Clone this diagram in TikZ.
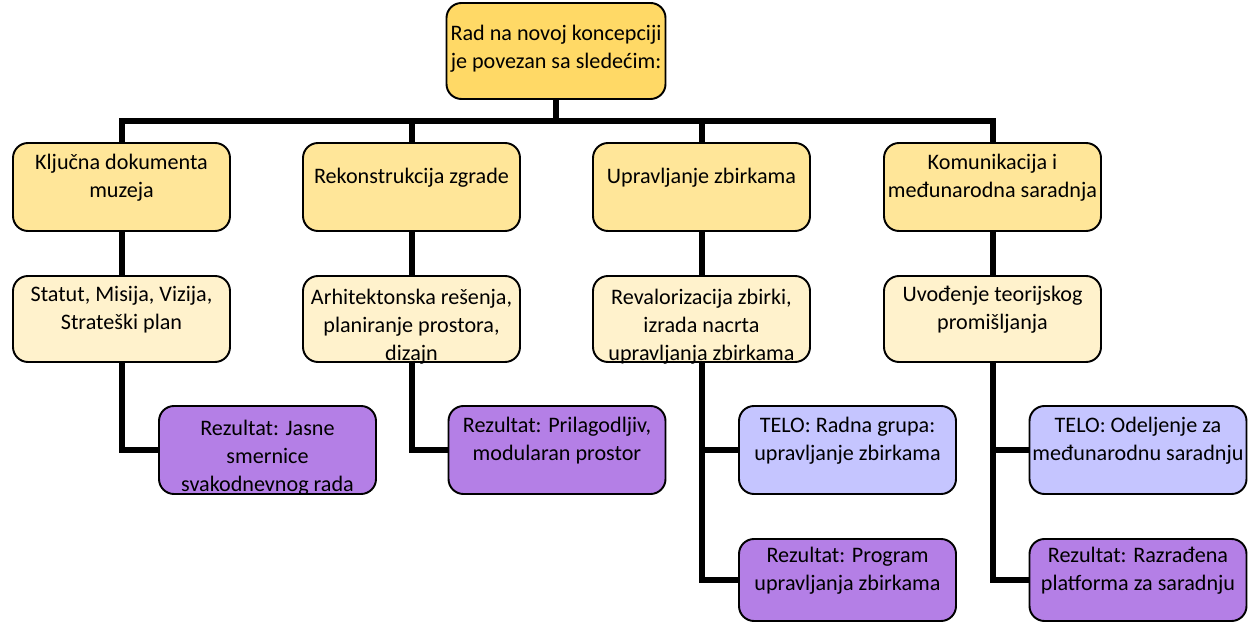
\documentclass[tikz,border=0pt]{standalone}
\usepackage{fontspec}
\setmainfont{Carlito}
\usetikzlibrary{positioning, calc}

\definecolor{zlatna}{RGB}{255,217,102}
\definecolor{svetlozlatna}{RGB}{255,230,153}
\definecolor{krem}{RGB}{255,242,204}
\definecolor{ljubicasta}{RGB}{180,127,230}
\definecolor{lavanda}{RGB}{197,197,255}

\begin{document}
\begin{tikzpicture}[
    box/.style={rectangle, rounded corners=0.3cm, draw=black, line width=1.1pt, align=center,
        minimum width=4.34cm, minimum height=1.76cm, inner xsep=0pt, inner ysep=2pt, text depth=0.45cm,
        font=\fontsize{12.6}{16}\selectfont},
    overflow/.style={text height=1.66cm, text depth=0cm, inner ysep=0pt},
    main/.style={box, fill=zlatna, minimum width=4.38cm, minimum height=1.92cm, text depth=0.16cm},
    area/.style={box, fill=svetlozlatna},
    task/.style={box, fill=krem, minimum height=1.72cm},
    result/.style={box, fill=ljubicasta},
    body/.style={box, fill=lavanda},
    link/.style={line width=0.12cm}
]
\useasboundingbox (0,0) rectangle (24.96,-12.48);

% glavni cvor
\node[main] (root) at (11.12,-1.02) {Rad na novoj koncepciji\\je povezan sa sledećim:};

% oblasti rada
\node[area] (docs)        at (2.43,-3.74)  {Ključna dokumenta\\muzeja};
\node[area] (building)    at (8.23,-3.74)  {Rekonstrukcija zgrade};
\node[area] (collections) at (14.03,-3.74) {Upravljanje zbirkama};
\node[area] (comms)       at (19.85,-3.74) {Komunikacija i\\međunarodna saradnja};

% zadaci
\node[task] (statute)      at (2.43,-6.38)  {Statut, Misija, Vizija,\\Strateški plan};
\node[task, overflow] (architecture) at (8.23,-6.38)  {Arhitektonska rešenja,\\planiranje prostora,\\dizajn};
\node[task, overflow] (revalue)      at (14.03,-6.38) {Revalorizacija zbirki,\\izrada nacrta\\upravljanja zbirkama};
\node[task] (theory)       at (19.85,-6.38) {Uvođenje teorijskog\\promišljanja};

% rezultati i tela
\node[result, overflow] (result_docs) at (5.35,-9.0) {Rezultat: Jasne\\smernice\\svakodnevnog rada};
\node[result] (result_space) at (11.14,-9.0)  {Rezultat: Prilagodljiv,\\modularan prostor};
\node[body]   (body_coll)    at (16.95,-9.0)  {TELO: Radna grupa:\\upravljanje zbirkama};
\node[result, minimum height=1.64cm] (result_coll) at (16.95,-11.6) {Rezultat: Program\\upravljanja zbirkama};
\node[body]   (body_comm)    at (22.76,-9.0)  {TELO: Odeljenje za\\međunarodnu saradnju};
\node[result, minimum height=1.64cm] (result_comm) at (22.76,-11.6) {Rezultat: Razrađena\\platforma za saradnju};

% sabirna linija
\coordinate (bus) at (11.12,-2.42);
\draw[link] (root.south) -- (root.south |- bus);
\draw[link] (docs.north) |- (bus) -| (comms.north);
\foreach \x in {building, collections} {
    \draw[link] (\x.north |- bus) -- (\x.north);
}

% oblast -> zadatak
\foreach \x/\y in {docs/statute, building/architecture, collections/revalue, comms/theory} {
    \draw[link] (\x) -- (\y);
}

% zadatak -> rezultat
\draw[link] (statute.south) |- (result_docs.west);
\draw[link] (architecture.south) |- (result_space.west);
\draw[link] (revalue.south) |- (result_coll.west);
\draw[link] (revalue.south |- body_coll.west) -- (body_coll.west);
\draw[link] (theory.south) |- (result_comm.west);
\draw[link] (theory.south |- body_comm.west) -- (body_comm.west);
\end{tikzpicture}
\end{document}
